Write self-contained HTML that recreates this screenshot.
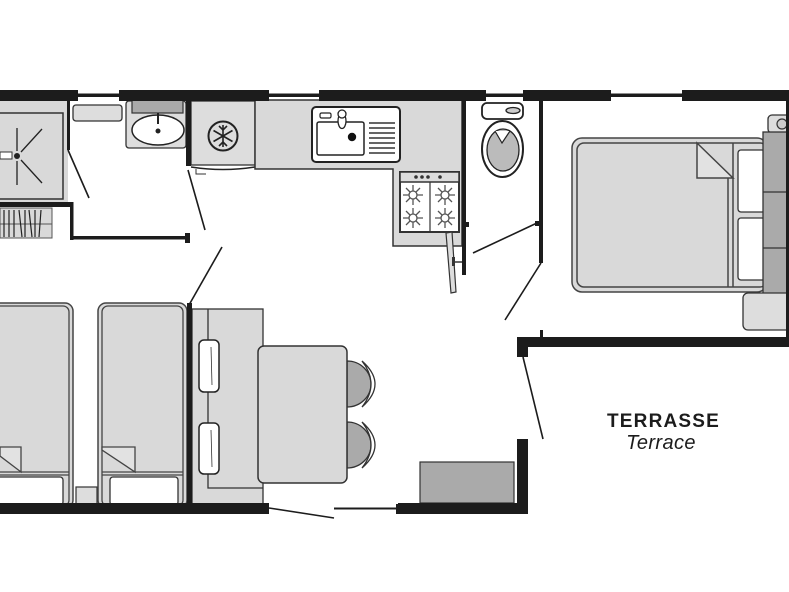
<!DOCTYPE html>
<html><head><meta charset="utf-8"><style>
html,body{margin:0;padding:0;background:#fff;}
svg{display:block;}
</style></head><body>
<svg width="789" height="592" viewBox="0 0 789 592" xmlns="http://www.w3.org/2000/svg">
<rect width="789" height="592" fill="#fff"/>

<!-- Shower -->
<rect x="0" y="100" width="68" height="102" fill="#d9d9d9"/>
<rect x="-2" y="113" width="65" height="86" fill="#d9d9d9" stroke="#333" stroke-width="1.5"/>
<rect x="0" y="152" width="12" height="7" fill="#fff" stroke="#333" stroke-width="1"/>
<circle cx="17" cy="156" r="3" fill="#222"/>
<g stroke="#222" stroke-width="1.3">
<line x1="17" y1="128" x2="17" y2="151"/><line x1="17" y1="161" x2="17" y2="185"/>
<line x1="21" y1="152" x2="42" y2="129"/><line x1="21" y1="160" x2="42" y2="183"/>
</g>
<!-- radiator -->
<rect x="0" y="208" width="52" height="30" fill="#d9d9d9" stroke="#555" stroke-width="1"/>
<line x1="0" y1="224" x2="52" y2="224" stroke="#555" stroke-width="1"/>
<g stroke="#222" stroke-width="1.2">
<line x1="4" y1="210" x2="4" y2="237"/><line x1="9" y1="210" x2="9" y2="237"/>
<line x1="14" y1="210" x2="14" y2="237"/><line x1="19" y1="210" x2="22" y2="237"/>
<line x1="25" y1="210" x2="25" y2="237"/><line x1="29" y1="210" x2="32" y2="237"/>
<line x1="35" y1="210" x2="35" y2="237"/><line x1="41" y1="210" x2="39" y2="237"/>
</g>

<!-- vanity -->
<rect x="73" y="105" width="49" height="16" rx="3" fill="#ddd" stroke="#333" stroke-width="1.3"/>
<rect x="126" y="101" width="60" height="47" rx="3" fill="#ddd" stroke="#333" stroke-width="1.3"/>
<rect x="132" y="100" width="51" height="13" fill="#aaa" stroke="#333" stroke-width="1.2"/>
<ellipse cx="158" cy="130" rx="26" ry="15" fill="#fff" stroke="#222" stroke-width="1.5"/>
<line x1="158" y1="113" x2="158" y2="124" stroke="#222" stroke-width="2"/>
<circle cx="158" cy="131" r="2.5" fill="#222"/>

<!-- fridge -->
<rect x="191" y="101" width="64" height="64" fill="#ddd" stroke="#333" stroke-width="1.3"/>
<circle cx="223" cy="136" r="14.5" fill="none" stroke="#222" stroke-width="2"/>
<g stroke="#222" stroke-width="1.6">
<line x1="223" y1="125" x2="223" y2="147"/>
<line x1="213.5" y1="130.5" x2="232.5" y2="141.5"/>
<line x1="213.5" y1="141.5" x2="232.5" y2="130.5"/>
<polyline points="219,126 223,130 227,126" fill="none"/>
<polyline points="219,146 223,142 227,146" fill="none"/>
</g>
<path d="M191,167 Q223,172 255,167" fill="none" stroke="#222" stroke-width="1.5"/>
<path d="M196,169 L196,174 L206,174" fill="none" stroke="#333" stroke-width="1"/>

<!-- kitchen counter -->
<polygon points="255,100 462,100 462,246 393,246 393,169 255,169" fill="#d9d9d9" stroke="#333" stroke-width="1.5"/>
<rect x="312" y="107" width="88" height="55" rx="4" fill="#fff" stroke="#222" stroke-width="2"/>
<rect x="317" y="122" width="47" height="33" rx="2" fill="#fff" stroke="#222" stroke-width="1.5"/>
<circle cx="352" cy="137" r="4.2" fill="#111"/>
<rect x="320" y="113" width="11" height="5" rx="1.5" fill="#fff" stroke="#222" stroke-width="1.2"/>
<ellipse cx="342" cy="121" rx="4" ry="7.5" fill="#fff" stroke="#222" stroke-width="1.3"/>
<circle cx="342" cy="114" r="4" fill="#fff" stroke="#222" stroke-width="1.3"/>
<g stroke="#333" stroke-width="1.5">
<line x1="369" y1="123" x2="395" y2="123"/><line x1="369" y1="128" x2="395" y2="128"/>
<line x1="369" y1="133" x2="395" y2="133"/><line x1="369" y1="138" x2="395" y2="138"/>
<line x1="369" y1="143" x2="395" y2="143"/><line x1="369" y1="148" x2="395" y2="148"/>
<line x1="369" y1="153" x2="395" y2="153"/>
</g>

<!-- stove -->
<rect x="400" y="172" width="59" height="60" fill="#fff" stroke="#333" stroke-width="2"/>
<rect x="400" y="172" width="59" height="10" fill="#ddd" stroke="#333" stroke-width="1.5"/>
<g fill="#333"><circle cx="416" cy="177" r="1.8"/><circle cx="422" cy="177" r="1.8"/><circle cx="428" cy="177" r="1.8"/><circle cx="440" cy="177" r="1.8"/></g>
<line x1="430" y1="182" x2="430" y2="232" stroke="#333" stroke-width="1.2"/>
<g stroke="#555" stroke-width="1.3" fill="#fff">
<g transform="translate(413,195)"><path d="M-10,0H10M0,-10V10M-7,-7L7,7M-7,7L7,-7"/><circle r="4"/></g>
<g transform="translate(445,195)"><path d="M-10,0H10M0,-10V10M-7,-7L7,7M-7,7L7,-7"/><circle r="4"/></g>
<g transform="translate(413,218)"><path d="M-10,0H10M0,-10V10M-7,-7L7,7M-7,7L7,-7"/><circle r="4"/></g>
<g transform="translate(445,218)"><path d="M-10,0H10M0,-10V10M-7,-7L7,7M-7,7L7,-7"/><circle r="4"/></g>
</g>
<!-- oven door -->
<polygon points="446,233 452,232 456,292 451,293" fill="#ddd" stroke="#333" stroke-width="1.2"/>
<line x1="453" y1="262" x2="463" y2="262" stroke="#333" stroke-width="1.5"/>
<rect x="452" y="257" width="3" height="9" fill="#333"/>

<!-- toilet -->
<rect x="482" y="103" width="41" height="16" rx="5" fill="#fff" stroke="#222" stroke-width="1.8"/>
<ellipse cx="513" cy="110.5" rx="7" ry="3" fill="#ccc" stroke="#222" stroke-width="1.3"/>
<ellipse cx="502.5" cy="149" rx="20.5" ry="28" fill="#fff" stroke="#222" stroke-width="2"/>
<ellipse cx="503" cy="150" rx="16" ry="21" fill="#bbb" stroke="#222" stroke-width="1.3"/>
<path d="M495,131 L502,143 L510,131" fill="#fff" stroke="#222" stroke-width="1.2"/>

<!-- double bed -->
<rect x="572" y="138" width="195" height="154" rx="10" fill="#d9d9d9" stroke="#444" stroke-width="1.5"/>
<rect x="577" y="143" width="190" height="144" rx="7" fill="#d9d9d9" stroke="#444" stroke-width="1.5"/>
<line x1="728" y1="178" x2="728" y2="287" stroke="#444" stroke-width="1.5"/>
<line x1="733" y1="143" x2="733" y2="287" stroke="#444" stroke-width="1.5"/>
<polygon points="697,143 733,178 697,178" fill="#e2e2e2" stroke="#444" stroke-width="1.5"/>
<rect x="738" y="150" width="27" height="62" rx="3" fill="#fff" stroke="#333" stroke-width="1.3"/>
<rect x="738" y="218" width="27" height="62" rx="3" fill="#fff" stroke="#333" stroke-width="1.3"/>
<rect x="768" y="115" width="22" height="18" rx="4" fill="#ddd" stroke="#333" stroke-width="1.3"/>
<circle cx="782" cy="124" r="5" fill="#ccc" stroke="#333" stroke-width="1.2"/>
<rect x="763" y="132" width="27" height="175" fill="#aaa" stroke="#333" stroke-width="1.3"/>
<line x1="763" y1="192" x2="789" y2="192" stroke="#333" stroke-width="1.2"/>
<line x1="763" y1="248" x2="789" y2="248" stroke="#333" stroke-width="1.2"/>
<rect x="743" y="293" width="48" height="37" rx="5" fill="#ddd" stroke="#333" stroke-width="1.3"/>

<!-- bunk bed 1 -->
<rect x="-10" y="303" width="83" height="205" rx="8" fill="#d9d9d9" stroke="#444" stroke-width="1.5"/>
<rect x="-10" y="306" width="79" height="200" rx="6" fill="#d9d9d9" stroke="#444" stroke-width="1.3"/>
<polygon points="0,447 21,447 21,472 0,456" fill="#e2e2e2" stroke="#444" stroke-width="1.3"/>
<line x1="0" y1="472" x2="69" y2="472" stroke="#444" stroke-width="1.3"/>
<line x1="0" y1="475" x2="69" y2="475" stroke="#444" stroke-width="1.3"/>
<rect x="-5" y="477" width="68" height="28" rx="3" fill="#fff" stroke="#333" stroke-width="1.3"/>
<rect x="76" y="487" width="21" height="17" fill="#ddd" stroke="#333" stroke-width="1.2"/>
<!-- bunk bed 2 -->
<rect x="98" y="303" width="89" height="205" rx="8" fill="#d9d9d9" stroke="#444" stroke-width="1.5"/>
<rect x="102" y="306" width="81" height="200" rx="6" fill="#d9d9d9" stroke="#444" stroke-width="1.3"/>
<polygon points="102,447 135,447 135,472 102,450" fill="#e2e2e2" stroke="#444" stroke-width="1.3"/>
<line x1="102" y1="472" x2="183" y2="472" stroke="#444" stroke-width="1.3"/>
<line x1="102" y1="475" x2="183" y2="475" stroke="#444" stroke-width="1.3"/>
<rect x="110" y="477" width="68" height="28" rx="3" fill="#fff" stroke="#333" stroke-width="1.3"/>

<!-- bench -->
<rect x="192" y="309" width="71" height="196" fill="#d9d9d9" stroke="#333" stroke-width="1.3"/>
<path d="M208,309 V488 H263" fill="none" stroke="#333" stroke-width="1.3"/>
<rect x="199" y="340" width="20" height="52" rx="5" fill="#fff" stroke="#222" stroke-width="1.5"/>
<rect x="199" y="423" width="20" height="51" rx="5" fill="#fff" stroke="#222" stroke-width="1.5"/>
<line x1="211" y1="347" x2="212" y2="385" stroke="#333" stroke-width="0.8"/>
<line x1="211" y1="430" x2="212" y2="467" stroke="#333" stroke-width="0.8"/>

<!-- chairs -->
<path d="M347,361 A24,23 0 0 1 347,407 Z" fill="#aaa" stroke="#333" stroke-width="1.3"/>
<path d="M347,422 A24,23 0 0 1 347,468 Z" fill="#aaa" stroke="#333" stroke-width="1.3"/>
<path d="M362,361 Q388,384 362,407 Q380,384 362,361 Z" fill="#fff" stroke="#333" stroke-width="1.3"/>
<path d="M362,422 Q388,445 362,468 Q380,445 362,422 Z" fill="#fff" stroke="#333" stroke-width="1.3"/>
<!-- table -->
<rect x="258" y="346" width="89" height="137" rx="6" fill="#d9d9d9" stroke="#333" stroke-width="1.5"/>

<!-- terrace box -->
<rect x="420" y="462" width="94" height="41" fill="#aaa" stroke="#333" stroke-width="1.2"/>

<!-- walls -->
<g fill="#1c1c1c">
<rect x="0" y="90" width="78" height="11"/>
<rect x="78" y="93.5" width="41" height="3.5"/>
<rect x="119" y="90" width="150" height="11"/>
<rect x="269" y="93.5" width="50" height="3.5"/>
<rect x="319" y="90" width="167" height="11"/>
<rect x="486" y="93.5" width="37" height="3.5"/>
<rect x="523" y="90" width="88" height="11"/>
<rect x="611" y="93.5" width="71" height="3.5"/>
<rect x="682" y="90" width="107" height="11"/>
<rect x="786" y="100" width="3" height="240"/>
<rect x="517" y="337" width="272" height="10"/>
<rect x="517" y="337" width="11" height="20"/>
<rect x="540" y="330" width="3" height="8"/>
<rect x="517" y="439" width="11" height="75"/>
<rect x="398" y="503" width="130" height="11"/>
<rect x="0" y="503" width="269" height="11"/>
<rect x="396" y="504" width="3" height="10"/>
<rect x="334" y="507.5" width="64" height="2"/>
<!-- interior -->
<rect x="67" y="100" width="3" height="50"/>
<rect x="0" y="202" width="73" height="5"/>
<rect x="70" y="202" width="3.5" height="38"/>
<rect x="70" y="236" width="118" height="3.5"/>
<rect x="185" y="233" width="5" height="10"/>
<rect x="186" y="100" width="5" height="66"/>
<rect x="187" y="303" width="5" height="201"/>
<rect x="462" y="100" width="4" height="175"/>
<rect x="466" y="222" width="3" height="5"/>
<rect x="539" y="100" width="4" height="163"/>
<rect x="535" y="221" width="4" height="5"/>
</g>
<!-- door swings -->
<g stroke="#1c1c1c" stroke-width="1.6" fill="none">
<line x1="68" y1="150" x2="89" y2="198"/>
<line x1="188" y1="170" x2="205" y2="230"/>
<line x1="222" y1="247" x2="189" y2="305"/>
<line x1="473" y1="253" x2="537" y2="223"/>
<line x1="541" y1="263" x2="505" y2="320"/>
<line x1="523" y1="357" x2="543" y2="439"/>
<line x1="269" y1="508" x2="334" y2="518"/>
</g>

<!-- labels -->
<text x="663.5" y="427" text-anchor="middle" font-family="'Liberation Sans', sans-serif" font-weight="bold" font-size="19" letter-spacing="1.2" fill="#1c1c1c">TERRASSE</text>
<text x="661" y="449" text-anchor="middle" font-family="'Liberation Sans', sans-serif" font-style="italic" font-size="20" letter-spacing="0.4" fill="#1c1c1c">Terrace</text>
</svg>
</body></html>
